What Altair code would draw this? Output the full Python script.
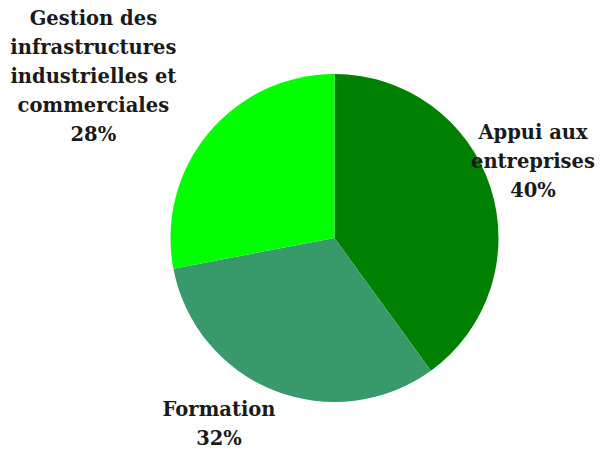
import altair as alt
import pandas as pd

categories = ["Appui aux\nentreprises", "Formation",
              "Gestion des\ninfrastructures\nindustrielles et\ncommerciales"]
values = [40, 32, 28]
colors = ["#008000", "#389A6A", "#00FF00"]

df = pd.DataFrame({"cat": categories, "value": values, "order": [0, 1, 2]})
df["label"] = df["cat"] + "\n" + df["value"].astype(str) + "%"

# label placement (layout only): angle adjustment in degrees and radius in px
# (anchor is the first line of each label)
angle_adj = {0: -9.9, 1: 12.3, 2: 2.7}
label_r = {0: 224.6, 1: 207, 2: 326}

CX, CY = 326.5, 230
R = 164

base = alt.Chart(df)

pie = base.mark_arc(outerRadius=R).encode(
    theta=alt.Theta("value:Q", stack=True),
    order=alt.Order("order:Q"),
    color=alt.Color("cat:N", scale=alt.Scale(domain=categories, range=colors), legend=None),
    x=alt.value(CX),
    y=alt.value(CY),
)

adj_expr = "datum.order == 0 ? {a0} : datum.order == 1 ? {a1} : {a2}".format(
    a0=angle_adj[0], a1=angle_adj[1], a2=angle_adj[2])
r_expr = "datum.order == 0 ? {r0} : datum.order == 1 ? {r1} : {r2}".format(
    r0=label_r[0], r1=label_r[1], r2=label_r[2])

labels = base.transform_window(
    cum="sum(value)", sort=[alt.SortField("order")]
).transform_joinaggregate(
    total="sum(value)"
).transform_calculate(
    ang="((datum.cum - datum.value / 2) / datum.total * 360 + (" + adj_expr + ")) * PI / 180",
    rad=r_expr,
).mark_text(
    lineBreak="\n", font="DejaVu Serif", fontWeight="bold", fontSize=19.5,
    lineHeight=29, align="center", baseline="middle", color="#1a1a1a"
).encode(
    theta=alt.Theta("ang:Q", scale=None),
    radius=alt.Radius("rad:Q", scale=None),
    text="label:N",
    x=alt.value(CX),
    y=alt.value(CY),
)

chart = alt.layer(pie, labels).properties(
    width=588, height=443, padding=0, autosize="none", background="white"
).configure_view(stroke=None, strokeWidth=0)

chart.save("out.html", embed_options={"renderer": "svg", "actions": False})
